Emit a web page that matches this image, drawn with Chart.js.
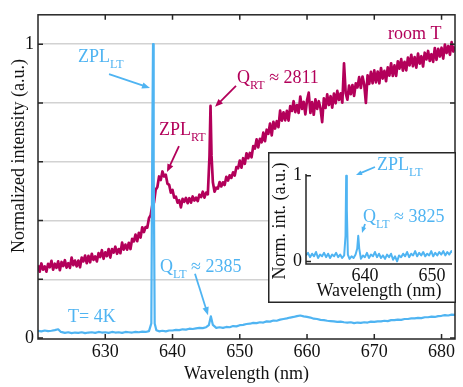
<!DOCTYPE html>
<html>
<head>
<meta charset="utf-8">
<script src="https://cdn.jsdelivr.net/npm/chart.js@4/dist/chart.umd.min.js"></script>
<style>
  html, body { margin: 0; padding: 0; background: #fff; }
  #wrap { position: relative; width: 463px; height: 387px; overflow: hidden; }
  #mainChart { position: absolute; left: 0; top: 0; }
  #insetBox { position: absolute; left: 268px; top: 152px; width: 188px; height: 151px; background: #fff; }
  #warm { position: absolute; left: -999px; top: 0; font: 18px "Liberation Serif"; }
</style>
</head>
<body>
<div id="wrap">
  <canvas id="mainChart" width="463" height="387"></canvas>
  <div id="insetBox"><canvas id="insetChart" width="188" height="151"></canvas></div>
</div>
<span id="warm">Wavelength</span>
<script>
// ------------------------- data -------------------------
// room temperature spectrum (magenta)
var rtWavelength = [
  620,620.25,620.5,620.75,621,621.25,621.5,621.75,
  622,622.25,622.5,622.75,623,623.25,623.5,623.75,
  624,624.25,624.5,624.75,625,625.25,625.5,625.75,
  626,626.25,626.5,626.75,627,627.25,627.5,627.75,
  628,628.25,628.5,628.75,629,629.25,629.5,629.75,
  630,630.25,630.5,630.75,631,631.25,631.5,631.75,
  632,632.25,632.5,632.75,633,633.25,633.5,633.75,
  634,634.25,634.5,634.75,635,635.25,635.5,635.75,
  636,636.25,636.5,636.75,637,637.25,637.5,637.75,
  638,638.25,638.5,638.75,639,639.25,639.5,639.75,
  640,640.25,640.5,640.75,641,641.25,641.5,641.75,
  642,642.25,642.5,642.75,643,643.25,643.5,643.75,
  644,644.25,644.5,644.75,645,645.25,645.5,645.65,645.8,
  646,646.25,646.5,646.75,647,647.25,647.5,647.75,
  648,648.25,648.5,648.75,649,649.25,649.5,649.75,
  650,650.25,650.5,650.75,651,651.25,651.5,651.75,
  652,652.25,652.5,652.75,653,653.25,653.5,653.75,
  654,654.25,654.5,654.75,655,655.25,655.5,655.75,
  656,656.25,656.5,656.75,657,657.25,657.5,657.75,
  658,658.25,658.5,658.75,659,659.25,659.5,659.75,
  660,660.25,660.5,660.75,661,661.25,661.5,661.75,
  662,662.25,662.5,662.75,663,663.25,663.5,663.75,
  664,664.25,664.5,664.75,665,665.25,665.5,665.75,
  666,666.25,666.5,666.75,667,667.25,667.5,667.75,
  668,668.25,668.5,668.75,669,669.25,669.5,669.75,
  670,670.25,670.5,670.75,671,671.25,671.5,671.75,
  672,672.25,672.5,672.75,673,673.25,673.5,673.75,
  674,674.25,674.5,674.75,675,675.25,675.5,675.75,
  676,676.25,676.5,676.75,677,677.25,677.5,677.75,
  678,678.25,678.5,678.75,679,679.25,679.5,679.75,
  680,680.25,680.5,680.75,681,681.25,681.5,681.75,
  682
];
var rtIntensity = [
  .248,.226,.254,.233,.244,.226,.253,.241,
  .263,.233,.253,.239,.261,.231,.259,.245,
  .265,.240,.255,.239,.274,.248,.264,.244,
  .264,.241,.274,.261,.281,.255,.280,.258,
  .287,.266,.278,.261,.289,.276,.299,.270,
  .292,.279,.303,.274,.303,.291,.311,.287,
  .303,.289,.325,.301,.318,.301,.324,.303,
  .338,.329,.352,.330,.358,.342,.377,.361,
  .378,.376,.408,.418,.453,.461,.505,.514,
  .550,.538,.567,.550,.556,.525,.522,.495,
  .504,.478,.481,.461,.469,.445,.474,.464,
  .477,.459,.476,.461,.482,.468,.478,.466,
  .488,.480,.498,.478,.495,.489,.620,.790,.620,
  .530,.498,.512,.509,.531,.516,.530,.521,
  .549,.536,.554,.545,.564,.553,.582,.578,
  .604,.580,.612,.593,.629,.612,.630,.615,
  .653,.645,.676,.649,.678,.666,.699,.670,
  .709,.695,.730,.690,.736,.713,.738,.718,
  .774,.740,.768,.741,.773,.740,.789,.773,
  .806,.769,.793,.766,.822,.780,.804,.761,
  .809,.835,.766,.803,.760,.812,.780,.806,
  .782,.735,.816,.783,.829,.793,.823,.784,
  .832,.799,.841,.810,.833,.801,.935,.833,
  .811,.859,.830,.861,.824,.867,.853,.888,
  .851,.890,.864,.800,.894,.865,.906,.867,
  .911,.870,.907,.867,.919,.883,.909,.874,
  .921,.893,.935,.892,.928,.892,.942,.917,
  .949,.910,.940,.911,.954,.928,.964,.925,
  .956,.920,.968,.934,.959,.924,.971,.948,
  .977,.943,.966,.940,.987,.947,.984,.958,
  .988,.951,.999,.970,.994,.964,1.007,.975,
  .992
];

// T = 4K spectrum (blue)
var ltWavelength = [
  620,620.5,621,621.5,622,622.5,623,623.4,624,624.5,
  625,625.5,626,626.5,627,627.5,628,628.5,629,629.5,
  630,630.5,631,631.5,632,632.5,633,633.5,634,634.5,
  635,635.5,636,636.5,636.85,637,637.1,637.2,637.35,637.6,
  638,638.5,639,639.5,640,640.5,641,641.5,642,642.5,
  643,643.5,644,644.5,645,645.4,645.7,646,646.5,647,
  647.5,648,648.5,649,649.5,650,650.5,651,651.5,652,
  652.5,653,653.5,654,654.5,655,655.5,656,656.5,657,
  657.5,658,658.5,659,659.5,660,660.5,661,661.5,662,
  662.5,663,663.5,664,664.5,665,665.5,666,666.5,667,
  667.5,668,668.5,669,669.5,670,670.5,671,671.5,672,
  672.5,673,673.5,674,674.5,675,675.5,676,676.5,677,
  677.5,678,678.5,679,679.5,680,680.5,681,681.5,682
];
var ltIntensity = [
  .025,.023,.026,.024,.025,.027,.030,.021,.018,.020,
  .017,.019,.018,.020,.017,.019,.020,.018,.021,.019,
  .020,.018,.021,.019,.020,.018,.021,.020,.019,.021,
  .020,.022,.021,.024,.050,.700,1.000,.600,.050,.027,
  .023,.025,.023,.026,.026,.028,.027,.030,.029,.032,
  .031,.033,.035,.034,.037,.044,.074,.045,.035,.037,
  .035,.038,.037,.041,.040,.044,.045,.048,.049,.052,
  .051,.054,.053,.057,.056,.060,.059,.063,.065,.067,
  .070,.072,.075,.077,.074,.072,.070,.066,.065,.062,
  .061,.059,.058,.057,.055,.056,.054,.053,.054,.051,
  .053,.052,.054,.053,.056,.055,.057,.057,.059,.058,
  .061,.061,.063,.062,.065,.065,.067,.067,.069,.068,
  .071,.071,.073,.072,.075,.076,.078,.077,.080,.079
];

// inset spectrum (blue)
var insetWavelength = [
  631.2,631.5,631.8,632.1,632.4,632.7,633,633.3,633.6,633.9,
  634.2,634.5,634.8,635.1,635.4,635.7,636,636.3,636.6,636.9,
  637.1,637.2,637.3,637.45,637.7,638,638.3,638.6,638.85,639,
  639.15,639.4,639.7,640,640.3,640.6,640.9,641.2,641.5,641.8,
  642.1,642.4,642.7,643,643.3,643.6,643.9,644.2,644.5,644.8,
  645.1,645.4,645.7,646,646.3,646.6,646.9,647.2,647.5,647.8,
  648.1,648.4,648.7,649,649.3,649.6,649.9,650.2,650.5,650.8,
  651.1,651.4,651.7,652,652.3,652.6,652.9,653
];
var insetIntensity = [
  .07,.10,.05,.09,.06,.11,.04,.08,.06,.10,
  .05,.09,.04,.08,.06,.10,.05,.08,.04,.07,
  .30,1.00,.60,.08,.03,.06,.04,.08,.15,.30,
  .15,.03,.07,.05,.10,.04,.08,.06,.11,.05,
  .09,.04,.07,.03,.08,.05,.09,.02,.06,.00,
  .07,.05,.09,.06,.11,.05,.09,.07,.12,.06,
  .10,.07,.11,.06,.09,.07,.12,.06,.10,.07,
  .11,.08,.12,.07,.11,.08,.12,.10
];

// tick values
var xTicksMain = [630, 640, 650, 660, 670, 680];
var yTicksMain = [0, 0.2, 0.4, 0.6, 0.8, 1];
var yLabelsMain = ['0', '', '', '', '', '1'];
var xTicksInset = [640, 650];
var yTicksInset = [0, 1];

// ------------------------- styles -------------------------
var FONT = '"Liberation Serif", "DejaVu Serif", serif';
var RT_COLOR = '#b3005a';
var LT_COLOR = '#4fb4f2';
var AXIS_COLOR = '#262626';

Chart.defaults.font.family = FONT;
Chart.defaults.color = '#111';

// annotation texts, placed in data units
var mainLabels = [
  { text: 'ZPL', sub: 'LT', rest: '', x: 625.95, y: 0.939, color: LT_COLOR },
  { text: 'ZPL', sub: 'RT', rest: '', x: 637.99, y: 0.690, color: RT_COLOR },
  { text: 'Q', sub: 'RT', rest: ' \u2248 2811', x: 649.59, y: 0.868, color: RT_COLOR },
  { text: 'room T', sub: '', rest: '', x: 672.04, y: 1.016, color: RT_COLOR },
  { text: 'Q', sub: 'LT', rest: ' \u2248 2385', x: 638.14, y: 0.226, color: LT_COLOR },
  { text: 'T= 4K', sub: '', rest: '', x: 624.46, y: 0.054, color: LT_COLOR }
];
var mainArrows = [
  { from: [630.56, 0.898], to: [636.65, 0.851], color: LT_COLOR },
  { from: [640.96, 0.653], to: [639.18, 0.565], color: RT_COLOR },
  { from: [649.44, 0.858], to: [646.32, 0.787], color: RT_COLOR },
  { from: [643.34, 0.219], to: [645.28, 0.078], color: LT_COLOR }
];
var insetLabels = [
  { text: 'ZPL', sub: 'LT', rest: '', x: 641.80, y: 1.067, color: LT_COLOR },
  { text: 'Q', sub: 'LT', rest: ' \u2248 3825', x: 639.71, y: 0.46, color: LT_COLOR }
];
var insetArrows = [
  { from: [641.50, 1.102], to: [638.67, 1.008], color: LT_COLOR },
  { from: [640.01, 0.437], to: [639.56, 0.332], color: LT_COLOR }
];

// ------------------------- helpers -------------------------
function toPoints(xs, ys) {
  return xs.map(function (x, i) { return { x: x, y: ys[i] }; });
}

function drawArrow(ctx, x1, y1, x2, y2, color, head) {
  var ang = Math.atan2(y2 - y1, x2 - x1);
  var c = Math.cos(ang), s = Math.sin(ang);
  ctx.save();
  ctx.strokeStyle = color;
  ctx.fillStyle = color;
  ctx.lineWidth = 1.8;
  ctx.beginPath();
  ctx.moveTo(x1, y1);
  ctx.lineTo(x2 - head * 0.8 * c, y2 - head * 0.8 * s);
  ctx.stroke();
  ctx.beginPath();
  ctx.moveTo(x2, y2);
  ctx.lineTo(x2 - head * c + head * 0.4 * s, y2 - head * s - head * 0.4 * c);
  ctx.lineTo(x2 - head * c - head * 0.4 * s, y2 - head * s + head * 0.4 * c);
  ctx.closePath();
  ctx.fill();
  ctx.restore();
}

function drawLabel(ctx, x, y, l) {
  ctx.save();
  ctx.fillStyle = l.color;
  ctx.textAlign = 'left';
  ctx.textBaseline = 'alphabetic';
  ctx.font = '18px ' + FONT;
  ctx.fillText(l.text, x, y);
  var w = ctx.measureText(l.text).width;
  if (l.sub) {
    ctx.font = '12px ' + FONT;
    ctx.fillText(l.sub, x + w, y + 6);
    w += ctx.measureText(l.sub).width;
  }
  if (l.rest) {
    ctx.font = '18px ' + FONT;
    ctx.fillText(l.rest, x + w, y);
  }
  ctx.restore();
}

function drawNotes(chart, labels, arrows, head) {
  var ctx = chart.ctx, xs = chart.scales.x, ys = chart.scales.y;
  arrows.forEach(function (a) {
    drawArrow(ctx, xs.getPixelForValue(a.from[0]), ys.getPixelForValue(a.from[1]),
      xs.getPixelForValue(a.to[0]), ys.getPixelForValue(a.to[1]), a.color, head);
  });
  labels.forEach(function (l) {
    drawLabel(ctx, xs.getPixelForValue(l.x), ys.getPixelForValue(l.y), l);
  });
}

function drawTitle(ctx, text, x, y, rotate) {
  ctx.save();
  ctx.translate(x, y);
  if (rotate) ctx.rotate(-Math.PI / 2);
  ctx.fillStyle = '#111';
  ctx.font = '18px ' + FONT;
  ctx.textAlign = 'center';
  ctx.textBaseline = 'middle';
  ctx.fillText(text, 0, 0);
  ctx.restore();
}

// ------------------------- plugins -------------------------
var mainDecor = {
  id: 'mainDecor',
  afterDraw: function (chart) {
    var ctx = chart.ctx, a = chart.chartArea;
    var xs = chart.scales.x, ys = chart.scales.y;
    ctx.save();
    ctx.strokeStyle = AXIS_COLOR;
    ctx.lineWidth = 1.5;
    ctx.strokeRect(a.left, a.top, a.right - a.left, a.bottom - a.top);
    ctx.beginPath();
    xTicksMain.forEach(function (v) {
      var px = xs.getPixelForValue(v);
      ctx.moveTo(px, a.bottom); ctx.lineTo(px, a.bottom - 5);
      ctx.moveTo(px, a.top); ctx.lineTo(px, a.top + 5);
    });
    yTicksMain.forEach(function (v) {
      var py = ys.getPixelForValue(v);
      ctx.moveTo(a.left, py); ctx.lineTo(a.left + 5, py);
      ctx.moveTo(a.right, py); ctx.lineTo(a.right - 5, py);
    });
    ctx.stroke();
    ctx.restore();
    drawTitle(ctx, 'Wavelength (nm)', (a.left + a.right) / 2, 374, false);
    drawTitle(ctx, 'Normalized intensity (a.u.)', 19, 156, true);
    drawNotes(chart, mainLabels, mainArrows, 8);
  }
};

var insetDecor = {
  id: 'insetDecor',
  afterDraw: function (chart) {
    var ctx = chart.ctx, a = chart.chartArea;
    var ys = chart.scales.y;
    ctx.save();
    ctx.strokeStyle = AXIS_COLOR;
    ctx.lineWidth = 1.5;
    ctx.beginPath();
    ctx.moveTo(a.left, a.top); ctx.lineTo(a.left, a.bottom); ctx.lineTo(a.right, a.bottom);
    yTicksInset.forEach(function (v) {
      var py = ys.getPixelForValue(v);
      ctx.moveTo(a.left, py); ctx.lineTo(a.left + 5, py);
    });
    ctx.stroke();
    ctx.strokeRect(0.75, 0.75, chart.width - 1.5, chart.height - 1.5);
    ctx.restore();
    drawTitle(ctx, 'Wavelength (nm)', (a.left + a.right) / 2, 139, false);
    drawTitle(ctx, 'Norm. int. (a.u.)', 12, 69, true);
    drawNotes(chart, insetLabels, insetArrows, 6);
  }
};

// ------------------------- main chart -------------------------
var mainChart = new Chart(document.getElementById('mainChart').getContext('2d'), {
  type: 'line',
  data: {
    datasets: [
      { label: 'T= 4K', data: toPoints(ltWavelength, ltIntensity), borderColor: LT_COLOR, borderWidth: 2.2 },
      { label: 'room T', data: toPoints(rtWavelength, rtIntensity), borderColor: RT_COLOR, borderWidth: 2.7 }
    ]
  },
  options: {
    responsive: false,
    animation: false,
    devicePixelRatio: 1,
    elements: { point: { radius: 0 }, line: { tension: 0, borderJoinStyle: 'round' } },
    layout: { padding: { top: 11, right: 8, left: 0, bottom: 0 } },
    plugins: { legend: { display: false }, tooltip: { enabled: false } },
    scales: {
      x: {
        type: 'linear', min: 620, max: 682,
        afterBuildTicks: function (s) { s.ticks = xTicksMain.map(function (v) { return { value: v }; }); },
        afterFit: function (s) { s.height = 48; },
        ticks: { font: { size: 18 }, color: '#111', padding: 2, maxRotation: 0 },
        grid: { display: false, drawTicks: false },
        border: { display: false }
      },
      y: {
        type: 'linear', min: -0.003, max: 1.1,
        afterBuildTicks: function (s) { s.ticks = yTicksMain.map(function (v) { return { value: v }; }); },
        afterFit: function (s) { s.width = 38; },
        ticks: {
          font: { size: 18 }, color: '#111', padding: 4,
          callback: function (v) { var i = yTicksMain.indexOf(v); return i >= 0 ? yLabelsMain[i] : ''; }
        },
        grid: {
          drawTicks: false, lineWidth: 1.5,
          color: function (c) { return c.tick && c.tick.value === 0 ? 'rgba(0,0,0,0)' : '#d2d2d2'; }
        },
        border: { display: false }
      }
    }
  },
  plugins: [mainDecor]
});

// ------------------------- inset chart -------------------------
var insetChart = new Chart(document.getElementById('insetChart').getContext('2d'), {
  type: 'line',
  data: {
    datasets: [
      { label: 'inset', data: toPoints(insetWavelength, insetIntensity), borderColor: LT_COLOR, borderWidth: 2 }
    ]
  },
  options: {
    responsive: false,
    animation: false,
    devicePixelRatio: 1,
    elements: { point: { radius: 0 }, line: { tension: 0, borderJoinStyle: 'round' } },
    layout: { padding: { top: 22, right: 4, left: 0, bottom: 0 } },
    plugins: { legend: { display: false }, tooltip: { enabled: false } },
    scales: {
      x: {
        type: 'linear', min: 631.2, max: 653,
        afterBuildTicks: function (s) { s.ticks = xTicksInset.map(function (v) { return { value: v }; }); },
        afterFit: function (s) { s.height = 39; },
        ticks: { font: { size: 18 }, color: '#111', padding: 1, maxRotation: 0 },
        grid: { display: false, drawTicks: false },
        border: { display: false }
      },
      y: {
        type: 'linear', min: -0.03, max: 1.02,
        afterBuildTicks: function (s) { s.ticks = yTicksInset.map(function (v) { return { value: v }; }); },
        afterFit: function (s) { s.width = 38; },
        ticks: { font: { size: 18 }, color: '#111', padding: 4 },
        grid: { display: false, drawTicks: false },
        border: { display: false }
      }
    }
  },
  plugins: [insetDecor]
});

// redraw once the serif face is surely available
if (document.fonts && document.fonts.load) {
  document.fonts.load('18px "Liberation Serif"').then(function () {
    mainChart.update();
    insetChart.update();
  });
}
</script>
</body>
</html>
